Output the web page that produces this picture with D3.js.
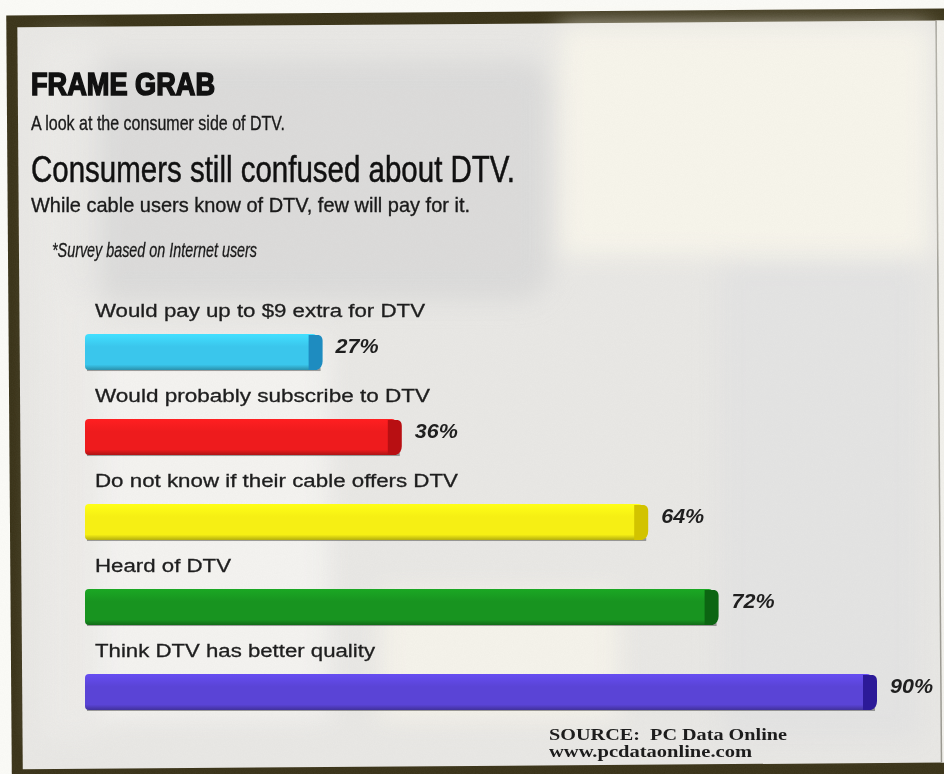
<!DOCTYPE html>
<html>
<head>
<meta charset="utf-8">
<script src="https://cdn.jsdelivr.net/npm/d3@7"></script>
<style>
  html, body { margin: 0; padding: 0; background: #fbfbf7; }
  svg { display: block; }
  text { white-space: pre; }
</style>
</head>
<body>
<svg id="chart" width="944" height="774"></svg>
<script>
// ---- data ----
const categories = [
  "Would pay up to $9 extra for DTV",
  "Would probably subscribe to DTV",
  "Do not know if their cable offers DTV",
  "Heard of DTV",
  "Think DTV has better quality"
];
const values = [27, 36, 64, 72, 90];
const valueLabels = ["27%", "36%", "64%", "72%", "90%"];
const barColors = ["#3ac6ec", "#ee1b1d", "#f6ef14", "#189420", "#5a44d6"];
const capColors = ["#1e8cc0", "#b80f12", "#d2c300", "#0c6512", "#2c1a98"];

const title = "FRAME GRAB";
const subtitle = "A look at the consumer side of DTV.";
const headline = "Consumers still confused about DTV.";
const deck = "While cable users know of DTV, few will pay for it.";
const note = "*Survey based on Internet users";
const source1 = "SOURCE:  PC Data Online";
const source2 = "www.pcdataonline.com";

// ---- drawing ----
const svg = d3.select("#chart");
const defs = svg.append("defs");

const blur = defs.append("filter").attr("id", "soft").attr("x", "-20%").attr("y", "-20%").attr("width", "140%").attr("height", "140%");
blur.append("feGaussianBlur").attr("stdDeviation", 12);

const noise = defs.append("filter").attr("id", "grain");
noise.append("feTurbulence").attr("type", "fractalNoise").attr("baseFrequency", 0.9).attr("numOctaves", 2).attr("seed", 3);
noise.append("feColorMatrix").attr("type", "matrix")
  .attr("values", "0 0 0 0 0.5  0 0 0 0 0.5  0 0 0 0 0.5  0 0 0 0.10 0");

// frame (slightly tilted like the scanned page)
const frame = svg.append("g").attr("transform", "rotate(-0.42 472 390)");
frame.append("rect").attr("x", 9).attr("y", 12).attr("width", 960).attr("height", 790).attr("fill", "#3a3318");
frame.append("rect").attr("x", 20).attr("y", 24).attr("width", 940).attr("height", 742).attr("fill", "#e9e8e5");
frame.append("rect").attr("x", 939).attr("y", 24).attr("width", 20).attr("height", 742).attr("fill", "#f2f1ec");
frame.append("rect").attr("x", 938).attr("y", 24).attr("width", 1.5).attr("height", 742).attr("fill", "#9a9890");

// background photo impression
const bg = svg.append("g").attr("filter", "url(#soft)");
bg.append("rect").attr("x", 560).attr("y", 26).attr("width", 370).attr("height", 230).attr("fill", "#f9f7ec").attr("opacity", 0.85);
bg.append("rect").attr("x", 60).attr("y", 60).attr("width", 490).attr("height", 240).attr("rx", 30).attr("fill", "#d6d6d6").attr("opacity", 0.7);
bg.append("rect").attr("x", 100).attr("y", 340).attr("width", 230).attr("height", 380).attr("fill", "#f6f5f2").attr("opacity", 0.8);
bg.append("rect").attr("x", 40).attr("y", 40).attr("width", 60).attr("height", 700).attr("fill", "#eeedea").attr("opacity", 0.7);
bg.append("rect").attr("x", 720).attr("y", 260).attr("width", 200).attr("height", 480).attr("fill", "#e2e2e2").attr("opacity", 0.8);
bg.append("rect").attr("x", 380).attr("y", 590).attr("width", 240).attr("height", 130).attr("fill", "#f7f5ec").attr("opacity", 0.8);
svg.append("rect").attr("x", 20).attr("y", 24).attr("width", 916).attr("height", 740).attr("filter", "url(#grain)").attr("opacity", 0.6);

// headings
const sans = "'Liberation Sans', Arial, Helvetica, sans-serif";
svg.append("text").attr("x", 31).attr("y", 95).text(title)
  .attr("font-family", sans).attr("font-weight", 900).attr("font-size", 32)
  .attr("textLength", 184).attr("lengthAdjust", "spacingAndGlyphs")
  .attr("fill", "#111").attr("stroke", "#111").attr("stroke-width", 1.6);
svg.append("text").attr("x", 31).attr("y", 130).text(subtitle)
  .attr("font-family", sans).attr("font-size", 21)
  .attr("textLength", 254).attr("lengthAdjust", "spacingAndGlyphs")
  .attr("fill", "#1a1a1a").attr("stroke", "#1a1a1a").attr("stroke-width", 0.35);
svg.append("text").attr("x", 31).attr("y", 182).text(headline)
  .attr("font-family", sans).attr("font-size", 36)
  .attr("textLength", 484).attr("lengthAdjust", "spacingAndGlyphs")
  .attr("fill", "#111").attr("stroke", "#111").attr("stroke-width", 0.5);
svg.append("text").attr("x", 31).attr("y", 212).text(deck)
  .attr("font-family", sans).attr("font-size", 21)
  .attr("textLength", 439).attr("lengthAdjust", "spacingAndGlyphs")
  .attr("fill", "#1a1a1a").attr("stroke", "#1a1a1a").attr("stroke-width", 0.35);
svg.append("text").attr("x", 52).attr("y", 257).text(note)
  .attr("font-family", sans).attr("font-style", "italic").attr("font-size", 20)
  .attr("textLength", 205).attr("lengthAdjust", "spacingAndGlyphs")
  .attr("fill", "#1a1a1a").attr("stroke", "#1a1a1a").attr("stroke-width", 0.3);

// scales
const x = d3.scaleLinear().domain([0, 100]).range([85, 965]);
const y = d3.scaleBand().domain(categories).range([334, 710]).paddingInner(0.576).paddingOuter(0);
const bh = y.bandwidth();
const labelWidths = [330, 335, 363, 136, 280];

// gradients per bar
categories.forEach((c, i) => {
  const g = defs.append("linearGradient").attr("id", "bar" + i).attr("x1", 0).attr("y1", 0).attr("x2", 0).attr("y2", 1);
  const base = d3.color(barColors[i]);
  g.append("stop").attr("offset", "0%").attr("stop-color", base.brighter(0.35));
  g.append("stop").attr("offset", "35%").attr("stop-color", base);
  g.append("stop").attr("offset", "85%").attr("stop-color", base);
  g.append("stop").attr("offset", "100%").attr("stop-color", base.darker(0.9));
});

const rows = svg.append("g").selectAll("g.row").data(categories).join("g").attr("class", "row");

// category labels
rows.append("text")
  .attr("x", 95)
  .attr("y", d => y(d) - 17)
  .text(d => d)
  .attr("font-family", sans).attr("font-size", 18)
  .attr("textLength", (d, i) => labelWidths[i]).attr("lengthAdjust", "spacingAndGlyphs")
  .attr("fill", "#1e1e1e").attr("stroke", "#1e1e1e").attr("stroke-width", 0.3);

// bar shadow line
rows.append("rect")
  .attr("x", x(0) + 2)
  .attr("y", d => y(d) + bh - 2)
  .attr("width", (d, i) => x(values[i]) - x(0) - 4)
  .attr("height", 3)
  .attr("fill", "#333").attr("opacity", 0.45);

// bar body
rows.append("rect")
  .attr("x", x(0))
  .attr("y", d => y(d))
  .attr("width", (d, i) => x(values[i]) - x(0) - 6)
  .attr("height", bh)
  .attr("rx", 4)
  .attr("fill", (d, i) => `url(#bar${i})`);

// bar end cap
rows.append("path")
  .attr("d", (d, i) => {
    const xe = x(values[i]), y0 = y(d);
    return `M${xe - 14},${y0 + 1} L${xe - 4},${y0 + 1} Q${xe},${y0 + 2} ${xe},${y0 + 7}
            L${xe},${y0 + bh - 9} Q${xe},${y0 + bh - 2} ${xe - 6},${y0 + bh} L${xe - 14},${y0 + bh} Z`;
  })
  .attr("fill", (d, i) => capColors[i]);

// value labels
rows.append("text")
  .attr("x", (d, i) => x(values[i]) + 13)
  .attr("y", d => y(d) + bh / 2 + 1)
  .text((d, i) => valueLabels[i])
  .attr("font-family", sans).attr("font-weight", 700).attr("font-style", "italic")
  .attr("font-size", 20).attr("textLength", 43).attr("lengthAdjust", "spacingAndGlyphs")
  .attr("fill", "#1f1f1f");

// source
const serif = "'Liberation Serif', 'Times New Roman', serif";
svg.append("text").attr("x", 549).attr("y", 740).text(source1)
  .attr("font-family", serif).attr("font-weight", 700).attr("font-size", 17)
  .attr("textLength", 238).attr("lengthAdjust", "spacingAndGlyphs").attr("fill", "#1c1c1c");
svg.append("text").attr("x", 549).attr("y", 757).text(source2)
  .attr("font-family", serif).attr("font-weight", 700).attr("font-size", 16)
  .attr("textLength", 203).attr("lengthAdjust", "spacingAndGlyphs").attr("fill", "#1c1c1c");
</script>
</body>
</html>
